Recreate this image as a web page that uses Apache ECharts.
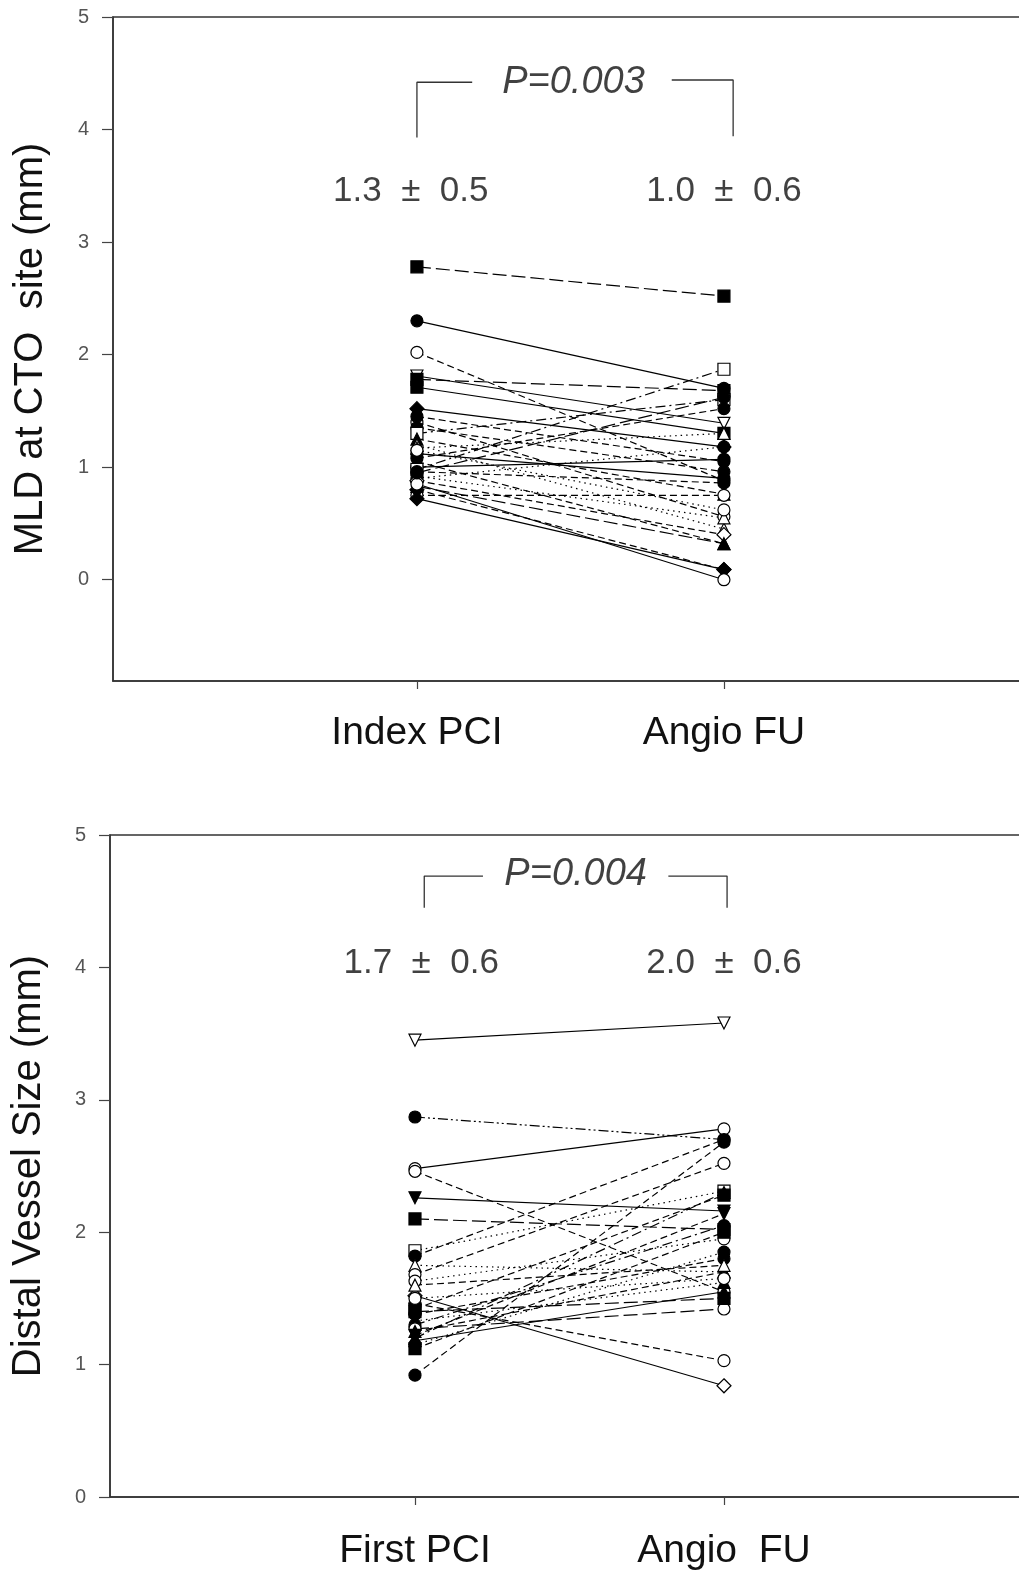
<!DOCTYPE html>
<html><head><meta charset="utf-8">
<script src="https://cdn.jsdelivr.net/npm/echarts@6/dist/echarts.min.js"></script>
<style>html,body{margin:0;padding:0;background:#fff}#c{width:1019px;height:1572px}</style>
</head><body><div id="c"></div>
<script>
// ---------- data ----------
const topCategories = ['Index PCI', 'Angio FU'];
const bottomCategories = ['First PCI', 'Angio  FU'];
const yTickValues = [0, 1, 2, 3, 4, 5];

// MLD at CTO site (mm): index PCI -> angio follow-up
const topBefore = [2.78, 2.30, 2.02, 1.81, 1.78, 1.71, 1.52, 1.40, 1.35, 1.30,
                   1.25, 1.20, 1.17, 1.12, 1.08, 1.05, 1.00, 0.98, 0.96, 0.92,
                   0.90, 0.88, 0.75, 0.83, 0.80, 0.72, 0.85, 1.45, 1.15, 0.95];
const topAfter  = [2.52, 1.70, 0.88, 1.39, 1.68, 1.30, 1.18, 0.56, 0.96, 1.60,
                   0.76, 0.45, 1.30, 0.90, 1.52, 0.32, 1.07, 1.87, 0.86, 0.55,
                   1.18, 0.40, 0.75, 0.32, 0.09, 0.09, 0.00, 1.05, 0.62, 1.62];
const topStats = ['1.3  \u00b1  0.5', '1.0  \u00b1  0.6'];
const topP = 'P=0.003';

// Distal vessel size (mm): first PCI -> angio follow-up
const bottomBefore = [3.45, 2.87, 2.48, 2.46, 2.26, 2.10, 1.86, 1.82, 1.75, 1.68,
                      1.63, 1.52, 1.46, 1.42, 1.38, 1.33, 1.30, 1.27, 1.25, 1.22,
                      1.18, 1.15, 1.12, 0.92, 1.50, 1.60, 1.40, 1.20];
const bottomAfter  = [3.58, 2.70, 2.78, 1.55, 2.16, 2.02, 2.31, 2.70, 1.70, 2.52,
                      1.95, 0.84, 1.03, 2.28, 1.80, 1.62, 2.05, 1.42, 1.70, 2.14,
                      1.55, 1.85, 2.00, 2.68, 1.65, 1.75, 1.50, 2.30];
const bottomStats = ['1.7  \u00b1  0.6', '2.0  \u00b1  0.6'];
const bottomP = 'P=0.004';

// ---------- styles (per subject) ----------
const topSym  = ['rect','circle','circle','tdown','rect','rect','diamond','circle','circle','rect',
                 'triangle','triangle','triangle','circle','circle','triangle','circle','rect','circle','triangle',
                 'circle','diamond','circle','triangle','diamond','diamond','circle','circle','circle','circle'];
const topFill = [1,1,0,0,1,1,1,0,1,0, 1,0,0,1,1,1,1,0,1,0, 1,0,0,1,1,1,0,1,0,1];
const topDash = ['l','s','d','s','l','s','s','d','d','dd', 'd','o','o','s','d','d','s','dd','d','o',
                 'o','d','d','l','d','s','s','d','o','l'];

const botSym  = ['tdown','circle','circle','circle','tdown','rect','rect','circle','triangle','circle',
                 'circle','diamond','circle','rect','circle','triangle','circle','circle','triangle','tdown',
                 'triangle','circle','rect','circle','circle','triangle','rect','triangle'];
const botFill = [0,1,0,0,1,1,0,1,0,0, 0,0,0,1,1,1,1,0,1,1, 1,1,1,1,0,0,1,1];
const botDash = ['s','ddd','s','d','s','l','o','d','o','d', 'o','s','d','d','d','o','dd','l','d','d',
                 's','o','d','d','o','d','l','dd'];

const dashMap = { s: 'solid', d: [7, 4], l: [14, 5], o: [1.5, 4], dd: [10, 4, 2, 4], ddd: [10, 3, 2, 3, 2, 3] };
const FONT = "'Liberation Sans', Arial, Helvetica, sans-serif";

function pairSeries(before, after, sym, fill, dash, gi) {
  return before.map((b, i) => ({
    type: 'line', xAxisIndex: gi, yAxisIndex: gi,
    data: [[1, b], [2, after[i]]],
    symbol: sym[i] === 'tdown' ? 'triangle' : sym[i],
    symbolRotate: sym[i] === 'tdown' ? 180 : 0,
    symbolSize: sym[i] === 'diamond' ? 14 : 12,
    showSymbol: true, silent: true, animation: false,
    lineStyle: { color: '#000', width: 1.2, type: dashMap[dash[i]] },
    itemStyle: { color: fill[i] ? '#000' : '#fff', borderColor: '#000', borderWidth: 1.2 },
    z: 3
  }));
}

function bracket(pts, gi) {
  return { type: 'line', xAxisIndex: gi, yAxisIndex: gi, data: pts, symbol: 'none',
    silent: true, animation: false, lineStyle: { color: '#333', width: 1.3 }, z: 2 };
}
function textSeries(items, gi) {
  return { type: 'scatter', xAxisIndex: gi, yAxisIndex: gi, symbolSize: 0, silent: true, animation: false,
    data: items.map(t => ({ value: [t.x, t.y], label: { show: true, position: 'inside', formatter: t.text,
      fontFamily: FONT, fontSize: t.size, fontStyle: t.italic ? 'italic' : 'normal', color: t.color || '#111' } })),
    z: 5 };
}

function yAxis(gi, min, name, gap) {
  return {
    type: 'value', gridIndex: gi, min: min, max: 5,
    name: name, nameLocation: 'middle', nameGap: gap,
    nameTextStyle: { fontFamily: FONT, fontSize: 40, color: '#111' },
    axisLine: { show: true, lineStyle: { color: '#333', width: 1.5 } },
    axisTick: { show: true, length: 11, inside: false, customValues: yTickValues, lineStyle: { color: '#444', width: 1.2 } },
    axisLabel: { show: true, customValues: yTickValues, margin: 24, fontFamily: FONT, fontSize: 20, color: '#555' },
    splitLine: { show: false }
  };
}
function xAxis(gi, min, cats, margin) {
  return {
    type: 'value', gridIndex: gi, min: min, max: min + 3,
    axisLine: { show: true, onZero: false, lineStyle: { color: '#333', width: 1.5 } },
    axisTick: { show: true, length: 8, inside: false, customValues: [1, 2], lineStyle: { color: '#444', width: 1.2 } },
    axisLabel: { show: true, customValues: [1, 2], margin: margin, fontFamily: FONT, fontSize: 39, color: '#111',
      formatter: v => cats[Math.round(v) - 1] },
    splitLine: { show: false }
  };
}

const series = []
  .concat(pairSeries(topBefore, topAfter, topSym, topFill, topDash, 0))
  .concat(pairSeries(bottomBefore, bottomAfter, botSym, botFill, botDash, 1))
  .concat([
    bracket([[1.0, 3.93], [1.0, 4.42], [1.18, 4.42]], 0),
    bracket([[1.83, 4.44], [2.03, 4.44], [2.03, 3.94]], 0),
    bracket([[1.03, 4.45], [1.03, 4.69], [1.22, 4.69]], 1),
    bracket([[1.82, 4.69], [2.01, 4.69], [2.01, 4.45]], 1),
    textSeries([
      { x: 1.51, y: 4.42, text: topP, size: 38, italic: true },
      { x: 0.98, y: 3.45, text: topStats[0], size: 35 },
      { x: 2.0, y: 3.45, text: topStats[1], size: 35 }
    ], 0),
    textSeries([
      { x: 1.52, y: 4.70, text: bottomP, size: 38, italic: true },
      { x: 1.02, y: 4.03, text: bottomStats[0], size: 35 },
      { x: 2.0, y: 4.03, text: bottomStats[1], size: 35 }
    ], 1)
  ]);

const chart = echarts.init(document.getElementById('c'), null, { renderer: 'canvas' });
chart.setOption({
  backgroundColor: '#fff',
  animation: false,
  grid: [
    { left: 113, top: 17, width: 921, height: 664, show: true, borderColor: '#333', borderWidth: 1.5,
      backgroundColor: 'transparent', containLabel: false, outerBoundsMode: 'none' },
    { left: 110, top: 835, width: 927, height: 662, show: true, borderColor: '#333', borderWidth: 1.5,
      backgroundColor: 'transparent', containLabel: false, outerBoundsMode: 'none' }
  ],
  xAxis: [xAxis(0, 0.01, topCategories, 33), xAxis(1, 0.013, bottomCategories, 35)],
  yAxis: [yAxis(0, -0.9, 'MLD at CTO  site (mm)', 62), yAxis(1, 0, 'Distal Vessel Size (mm)', 61)],
  series: series
});
</script></body></html>
